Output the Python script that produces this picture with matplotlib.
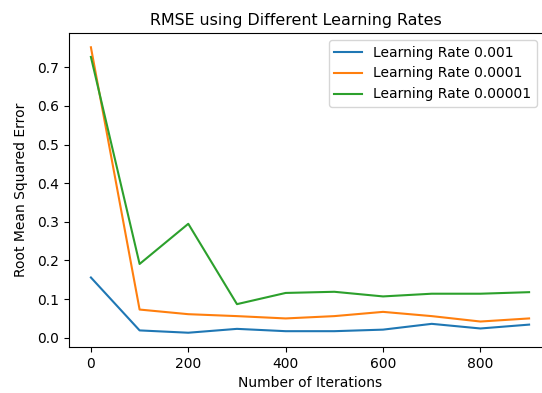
import matplotlib
matplotlib.use("Agg")
import matplotlib.pyplot as plt

iterations = [0, 100, 200, 300, 400, 500, 600, 700, 800, 900]
rmse_lr_001 = [0.156, 0.019, 0.013, 0.023, 0.017, 0.017, 0.021, 0.036, 0.024, 0.034]
rmse_lr_0001 = [0.752, 0.073, 0.061, 0.056, 0.050, 0.056, 0.067, 0.056, 0.042, 0.050]
rmse_lr_00001 = [0.727, 0.191, 0.295, 0.087, 0.116, 0.119, 0.107, 0.114, 0.114, 0.118]
labels = ["Learning Rate 0.001", "Learning Rate 0.0001", "Learning Rate 0.00001"]

W, H = 542, 393
fig = plt.figure(figsize=(W / 100, H / 100), dpi=100)
left, right, top, bottom = 69, 551, 33, 347
ax = fig.add_axes([left / W, 1 - bottom / H, (right - left) / W, (bottom - top) / H])

ax.plot(iterations, rmse_lr_001, label=labels[0])
ax.plot(iterations, rmse_lr_0001, label=labels[1])
ax.plot(iterations, rmse_lr_00001, label=labels[2])

ax.set_title("RMSE using Different Learning Rates", fontsize=11.4,
             x=(296 - left) / (right - left))
ax.set_xlabel("Number of Iterations")
ax.set_ylabel("Root Mean Squared Error", labelpad=6.5)
ax.legend(loc="upper right", bbox_to_anchor=(537 / W, 1 - 40 / H),
          bbox_transform=fig.transFigure, borderaxespad=0)

fig.savefig("out.png", dpi=100)
